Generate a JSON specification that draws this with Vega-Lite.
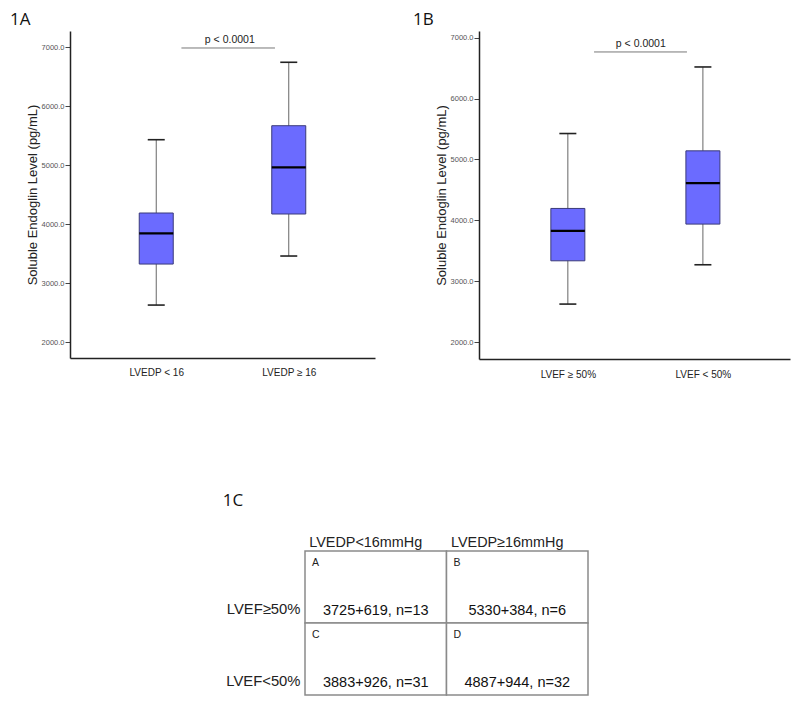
{
  "$schema": "https://vega.github.io/schema/vega-lite/v6.json",
  "padding": {"left": 10, "top": 11, "right": 5, "bottom": 5},
  "background": "white",
  "config": {
    "view": {"stroke": null},
    "font": "Liberation Sans",
    "title": {"font": "Open Sans", "fontSize": 17, "fontWeight": "normal", "color": "#111", "anchor": "start", "frame": "bounds", "baseline": "alphabetic"}
  },
  "datasets": {
    "boxA": [
      {"group": 1, "label": "LVEDP < 16", "low": 2632, "q1": 3327, "median": 3847, "q3": 4192, "high": 5434},
      {"group": 2, "label": "LVEDP ≥ 16", "low": 3463, "q1": 4175, "median": 4966, "q3": 5671, "high": 6746}
    ],
    "annA": [{"x1": 1.19, "x2": 1.896, "xt": 1.555, "y": 6988, "text": "p < 0.0001"}],
    "boxB": [
      {"group": 1, "label": "LVEF ≥ 50%", "low": 2628, "q1": 3338, "median": 3830, "q3": 4197, "high": 5426},
      {"group": 2, "label": "LVEF < 50%", "low": 3273, "q1": 3940, "median": 4612, "q3": 5142, "high": 6518}
    ],
    "annB": [{"x1": 1.194, "x2": 1.882, "xt": 1.54, "y": 6764, "text": "p < 0.0001"}],
    "table": [
      {"col": "LVEDP<16mmHg", "row": "LVEF≥50%", "letter": "A", "value": "3725+619, n=13"},
      {"col": "LVEDP≥16mmHg", "row": "LVEF≥50%", "letter": "B", "value": "5330+384, n=6"},
      {"col": "LVEDP<16mmHg", "row": "LVEF<50%", "letter": "C", "value": "3883+926, n=31"},
      {"col": "LVEDP≥16mmHg", "row": "LVEF<50%", "letter": "D", "value": "4887+944, n=32"}
    ],
    "spacer": [{"s": ""}]
  },
  "vconcat": [
    {
      "hconcat": [
        {
          "title": {"text": "1A", "dx": -16, "offset": 2},
          "width": 305,
          "height": 327,
          "layer": [
            {
              "data": {"name": "boxA"},
              "mark": {"type": "rule", "color": "#666", "strokeWidth": 1},
              "encoding": {
                "x": {"field": "group", "type": "quantitative", "scale": {"domain": [0.387, 2.613], "nice": false, "zero": false},
                  "axis": {"values": [1, 2], "labelExpr": "datum.value == 1 ? 'LVEDP < 16' : 'LVEDP ≥ 16'", "title": null, "ticks": false, "grid": false, "domainColor": "#222", "domainWidth": 1.5, "labelFontSize": 10, "labelColor": "#222", "labelPadding": 9}},
                "y": {"field": "low", "type": "quantitative", "scale": {"domain": [1735, 7276], "nice": false, "zero": false},
                  "axis": {"title": "Soluble Endoglin Level (pg/mL)", "values": [2000, 3000, 4000, 5000, 6000, 7000], "format": ".1f", "grid": false, "labelFontSize": 7.5, "labelColor": "#555", "tickSize": 5, "tickColor": "#444", "domainColor": "#222", "domainWidth": 1.5, "labelPadding": 1, "titleFontSize": 13, "titleFontWeight": "normal", "titleColor": "#222", "titlePadding": 2}},
                "y2": {"field": "high"}
              }
            },
            {
              "data": {"name": "boxA"},
              "mark": {"type": "bar", "size": 34, "fill": "#6B6BFF", "stroke": "#3a3a7a", "strokeWidth": 1},
              "encoding": {
                "x": {"field": "group", "type": "quantitative"},
                "y": {"field": "q1", "type": "quantitative"},
                "y2": {"field": "q3"}
              }
            },
            {
              "data": {"name": "boxA"},
              "mark": {"type": "tick", "orient": "horizontal", "size": 34, "thickness": 2.2, "color": "#000", "opacity": 1},
              "encoding": {"x": {"field": "group", "type": "quantitative"}, "y": {"field": "median", "type": "quantitative"}}
            },
            {
              "data": {"name": "boxA"},
              "mark": {"type": "tick", "orient": "horizontal", "size": 17, "thickness": 1.6, "color": "#222", "opacity": 1},
              "encoding": {"x": {"field": "group", "type": "quantitative"}, "y": {"field": "low", "type": "quantitative"}}
            },
            {
              "data": {"name": "boxA"},
              "mark": {"type": "tick", "orient": "horizontal", "size": 17, "thickness": 1.6, "color": "#222", "opacity": 1},
              "encoding": {"x": {"field": "group", "type": "quantitative"}, "y": {"field": "high", "type": "quantitative"}}
            },
            {
              "data": {"name": "annA"},
              "mark": {"type": "rule", "color": "#777", "strokeWidth": 1},
              "encoding": {"x": {"field": "x1", "type": "quantitative"}, "x2": {"field": "x2"}, "y": {"field": "y", "type": "quantitative"}}
            },
            {
              "data": {"name": "annA"},
              "mark": {"type": "text", "fontSize": 10.5, "color": "#222", "baseline": "bottom", "dy": -3},
              "encoding": {"x": {"field": "xt", "type": "quantitative"}, "y": {"field": "y", "type": "quantitative"}, "text": {"field": "text"}}
            }
          ]
        },
        {
          "title": {"text": "1B", "dx": -22, "offset": 2},
          "width": 311,
          "height": 328,
          "layer": [
            {
              "data": {"name": "boxB"},
              "mark": {"type": "rule", "color": "#666", "strokeWidth": 1},
              "encoding": {
                "x": {"field": "group", "type": "quantitative", "scale": {"domain": [0.379, 2.608], "nice": false, "zero": false},
                  "axis": {"values": [1, 2], "labelExpr": "datum.value == 1 ? 'LVEF ≥ 50%' : 'LVEF < 50%'", "title": null, "ticks": false, "grid": false, "domainColor": "#222", "domainWidth": 1.5, "labelFontSize": 10, "labelColor": "#222", "labelPadding": 10}},
                "y": {"field": "low", "type": "quantitative", "scale": {"domain": [1727, 7108], "nice": false, "zero": false},
                  "axis": {"title": "Soluble Endoglin Level (pg/mL)", "values": [2000, 3000, 4000, 5000, 6000, 7000], "format": ".1f", "grid": false, "labelFontSize": 7.5, "labelColor": "#555", "tickSize": 5, "tickColor": "#444", "domainColor": "#222", "domainWidth": 1.5, "labelPadding": 1, "titleFontSize": 13, "titleFontWeight": "normal", "titleColor": "#222", "titlePadding": 2}},
                "y2": {"field": "high"}
              }
            },
            {
              "data": {"name": "boxB"},
              "mark": {"type": "bar", "size": 34, "fill": "#6B6BFF", "stroke": "#3a3a7a", "strokeWidth": 1},
              "encoding": {
                "x": {"field": "group", "type": "quantitative"},
                "y": {"field": "q1", "type": "quantitative"},
                "y2": {"field": "q3"}
              }
            },
            {
              "data": {"name": "boxB"},
              "mark": {"type": "tick", "orient": "horizontal", "size": 34, "thickness": 2.2, "color": "#000", "opacity": 1},
              "encoding": {"x": {"field": "group", "type": "quantitative"}, "y": {"field": "median", "type": "quantitative"}}
            },
            {
              "data": {"name": "boxB"},
              "mark": {"type": "tick", "orient": "horizontal", "size": 17, "thickness": 1.6, "color": "#222", "opacity": 1},
              "encoding": {"x": {"field": "group", "type": "quantitative"}, "y": {"field": "low", "type": "quantitative"}}
            },
            {
              "data": {"name": "boxB"},
              "mark": {"type": "tick", "orient": "horizontal", "size": 17, "thickness": 1.6, "color": "#222", "opacity": 1},
              "encoding": {"x": {"field": "group", "type": "quantitative"}, "y": {"field": "high", "type": "quantitative"}}
            },
            {
              "data": {"name": "annB"},
              "mark": {"type": "rule", "color": "#777", "strokeWidth": 1},
              "encoding": {"x": {"field": "x1", "type": "quantitative"}, "x2": {"field": "x2"}, "y": {"field": "y", "type": "quantitative"}}
            },
            {
              "data": {"name": "annB"},
              "mark": {"type": "text", "fontSize": 10.5, "color": "#222", "baseline": "bottom", "dy": -3},
              "encoding": {"x": {"field": "xt", "type": "quantitative"}, "y": {"field": "y", "type": "quantitative"}, "text": {"field": "text"}}
            }
          ]
        }
      ],
      "spacing": 38
    },
    {
      "hconcat": [
        {
          "data": {"name": "spacer"},
          "width": 152,
          "height": 10,
          "mark": {"type": "text", "opacity": 0},
          "encoding": {"text": {"field": "s"}}
        },
        {
          "title": {"text": "1C", "dx": -3, "offset": 24},
          "data": {"name": "table"},
          "width": 283,
          "height": 144,
          "encoding": {
            "x": {"field": "col", "type": "nominal", "sort": ["LVEDP<16mmHg", "LVEDP≥16mmHg"], "scale": {"paddingInner": 0, "paddingOuter": 0},
              "axis": {"orient": "top", "title": null, "domain": false, "ticks": false, "labelAngle": 0, "labelFontSize": 14.4, "labelColor": "#222", "labelPadding": 2, "labelOffset": -10}},
            "y": {"field": "row", "type": "nominal", "sort": ["LVEF≥50%", "LVEF<50%"], "scale": {"paddingInner": 0, "paddingOuter": 0},
              "axis": {"title": null, "domain": false, "ticks": false, "labelFontSize": 14.8, "labelColor": "#222", "labelPadding": 5, "labelOffset": 23}}
          },
          "layer": [
            {"mark": {"type": "rect", "fill": "white", "stroke": "#8a8a8a", "strokeWidth": 1.5}},
            {"mark": {"type": "text", "fontSize": 14.5, "color": "#111", "dy": 24},
             "encoding": {"text": {"field": "value"}}},
            {"mark": {"type": "text", "fontSize": 10.5, "color": "#222", "align": "left", "baseline": "top", "dx": 7, "dy": 7},
             "encoding": {"x": {"field": "col", "type": "nominal", "sort": ["LVEDP<16mmHg", "LVEDP≥16mmHg"], "bandPosition": 0}, "y": {"field": "row", "type": "nominal", "sort": ["LVEF≥50%", "LVEF<50%"], "bandPosition": 0}, "text": {"field": "letter"}}}
          ]
        }
      ],
      "spacing": 0
    }
  ],
  "spacing": 113
}
